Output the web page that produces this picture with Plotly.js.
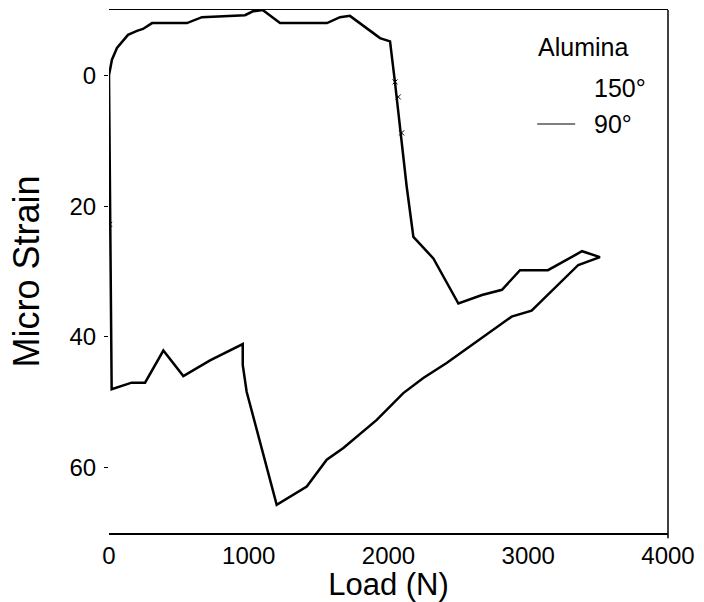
<!DOCTYPE html>
<html>
<head>
<meta charset="utf-8">
<script src="https://cdn.plot.ly/plotly-3.0.1.min.js"></script>
<style>
html,body{margin:0;padding:0;background:#fff;}
#chart{width:704px;height:602px;}
</style>
</head>
<body>
<div id="chart"></div>
<script>
// 90° series: load (N) vs micro strain, traced as one closed loop
var load90 = [0, 21, 57, 136, 200, 243, 308, 558, 665, 973, 1030, 1100, 1224, 1560, 1653, 1724, 1889, 1939, 2011,
  2047, 2130, 2178, 2321, 2500, 2669, 2812, 2941, 3141, 3385, 3513,
  3358, 3024, 2881, 2583, 2416, 2249, 2106, 1916, 1677, 1558, 1415, 1200,
  985, 957, 957, 723, 532, 389, 258, 162, 19, 0];
var strain90 = [0, -2.4, -4.2, -6.2, -6.8, -7.1, -8.0, -8.0, -8.9, -9.2, -9.8, -10, -8.0, -8.0, -8.9, -9.1, -6.5, -5.7, -5.2,
  1.2, 17.0, 24.7, 28.0, 34.9, 33.6, 32.8, 29.8, 29.8, 26.9, 27.8,
  29.0, 36.0, 36.9, 41.4, 44.0, 46.3, 48.6, 52.7, 57.0, 58.8, 62.9, 65.7,
  48.4, 44.3, 41.1, 43.6, 46.0, 42.1, 47.0, 47.0, 48.0, 0];
// 150° series: only a few faint marks are visible
var load150 = [2047, 2070, 2094, 5];
var strain150 = [1.0, 3.3, 8.8, 22.8];

var xTickVals = [0, 1000, 2000, 3000, 4000];
var yTickVals = [0, 20, 40, 60];

var FONT = 'Liberation Sans, Arial, sans-serif';

var traces = [
  {x: load90, y: strain90, mode: 'lines', name: '90°',
   line: {color: '#000', width: 2.5, shape: 'linear'}, showlegend: false},
  {x: load150, y: strain150, mode: 'markers', name: '150°',
   marker: {symbol: 'x-thin', size: 5, line: {color: '#000', width: 1}}, showlegend: false}
];

var layout = {
  width: 704, height: 602,
  margin: {l: 109, r: 36, t: 10, b: 69},
  paper_bgcolor: '#fff', plot_bgcolor: '#fff',
  font: {family: FONT, color: '#000'},
  showlegend: false,
  xaxis: {
    range: [0, 4000], tickvals: xTickVals, ticktext: xTickVals.map(String),
    showgrid: false, zeroline: false,
    showline: true, mirror: true, linecolor: '#000', linewidth: 1.5,
    ticks: '', ticklabelstandoff: 1,
    tickfont: {size: 24, family: FONT},
    title: {text: 'Load (N)', font: {size: 31, family: FONT}, standoff: 1},
    automargin: false
  },
  yaxis: {
    range: [70, -10], tickvals: yTickVals, ticktext: yTickVals.map(String),
    showgrid: false, zeroline: false, showline: false,
    ticks: 'outside', ticklen: 4, tickwidth: 1.2, tickcolor: '#000',
    ticklabelstandoff: 3,
    tickfont: {size: 24, family: FONT},
    title: {text: 'Micro Strain', font: {size: 36, family: FONT}, standoff: 18},
    automargin: false
  },
  shapes: [
    {type: 'line', xref: 'paper', yref: 'paper', x0: 1, x1: 1, y0: -0.01, y1: 1,
     line: {color: '#000', width: 1.5}},
    {type: 'line', xref: 'paper', yref: 'paper', x0: 0.766, x1: 0.834, y0: 0.782, y1: 0.782,
     line: {color: '#000', width: 1.2}}
  ],
  annotations: [
    {xref: 'paper', yref: 'paper', x: 0.764, y: 0.93, xanchor: 'left', yanchor: 'middle',
     text: 'Alumina', showarrow: false, font: {size: 25, family: FONT}},
    {xref: 'paper', yref: 'paper', x: 0.864, y: 0.851, xanchor: 'left', yanchor: 'middle',
     text: '150°', showarrow: false, font: {size: 25, family: FONT}},
    {xref: 'paper', yref: 'paper', x: 0.864, y: 0.782, xanchor: 'left', yanchor: 'middle',
     text: '90°', showarrow: false, font: {size: 25, family: FONT}}
  ]
};

Plotly.newPlot('chart', traces, layout, {staticPlot: true, displayModeBar: false});
</script>
</body>
</html>
